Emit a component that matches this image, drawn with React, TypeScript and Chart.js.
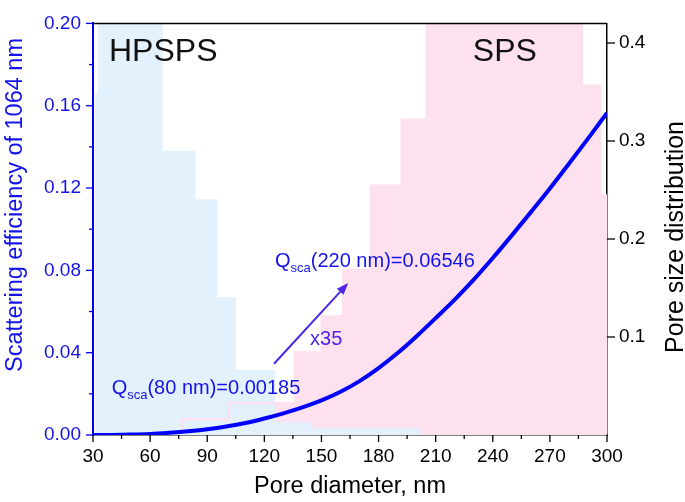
import React, { useEffect, useRef } from 'react';
import { Chart, registerables } from 'chart.js';

Chart.register(...registerables);

// Scattering efficiency curve (left axis)
const diameters = [30, 40, 50, 60, 70, 80, 90, 100, 110, 120, 130, 140, 150, 160, 170, 180, 190, 200, 210, 220, 230, 240, 250, 260, 270, 280, 290, 300];
const qsca = [0, 0.00005, 0.0002, 0.0005, 0.0011, 0.00185, 0.0028, 0.0041, 0.0058, 0.008, 0.0105, 0.0134, 0.0168, 0.021, 0.0262, 0.0325, 0.0398, 0.048, 0.0568, 0.0658, 0.0755, 0.086, 0.097, 0.1083, 0.1198, 0.1318, 0.144, 0.1565];

// Pore size distributions (right axis), histogram bin edges and heights
const hpspsEdges = [31.05, 32.5, 66.6, 83.8, 95.4, 105.1, 125.6, 145, 201.8];
const hpspsHeights = [0.349, 0.5, 0.29, 0.2405, 0.1406, 0.0663, 0.0129, 0.0069];
const spsEdges = [76.7, 101.4, 136.1, 150.2, 161.5, 176, 192.2, 205.3, 286.9, 296.4, 300];
const spsHeights = [0.016, 0.0327, 0.0841, 0.1208, 0.1683, 0.2544, 0.3217, 0.5, 0.3564, 0.2445];

const xTicks = [30, 60, 90, 120, 150, 180, 210, 240, 270, 300];
const leftTicks = [0, 0.04, 0.08, 0.12, 0.16, 0.2];
const rightTicks = [0.1, 0.2, 0.3, 0.4];

const FONT = '"Liberation Sans", Arial, sans-serif';
const BLUE_TEXT = '#1414e8';
const BLUE_AXIS = '#0000ee';
const ARROW = '#4b26e4';
const PINK = '#fde1ef';
const LIGHT_BLUE = '#e3f1fd';

function stepPoints(edges: number[], heights: number[]) {
  const pts: { x: number; y: number }[] = [{ x: edges[0], y: 0 }];
  for (let i = 0; i < heights.length; i++) {
    pts.push({ x: edges[i], y: heights[i] });
    pts.push({ x: edges[i + 1], y: heights[i] });
  }
  pts.push({ x: edges[edges.length - 1], y: 0 });
  return pts;
}

function drawQ(ctx: CanvasRenderingContext2D, x: number, y: number, d: string, v: string) {
  ctx.fillStyle = BLUE_TEXT;
  ctx.textAlign = 'left';
  ctx.textBaseline = 'alphabetic';
  ctx.font = `20px ${FONT}`;
  ctx.fillText('Q', x, y);
  let w = ctx.measureText('Q').width;
  ctx.font = `13px ${FONT}`;
  ctx.fillText('sca', x + w, y + 5);
  w += ctx.measureText('sca').width;
  ctx.font = `20px ${FONT}`;
  ctx.fillText(`(${d} nm)=${v}`, x + w, y);
}

const overlay = {
  id: 'overlay',
  afterDraw(chart: any) {
    const { ctx, chartArea } = chart;
    const sx = chart.scales.x;
    const sy = chart.scales.y;
    const sy2 = chart.scales.y2;
    ctx.save();
    // top frame
    ctx.strokeStyle = '#000';
    ctx.lineWidth = 1.5;
    ctx.beginPath();
    ctx.moveTo(chartArea.left, chartArea.top);
    ctx.lineTo(chartArea.right, chartArea.top);
    ctx.stroke();

    // x ticks (major + minor)
    ctx.lineWidth = 1.3;
    ctx.strokeStyle = '#000';
    for (let v = 30; v <= 300; v += 15) {
      const px = sx.getPixelForValue(v);
      const len = (v - 30) % 30 === 0 ? 7 : 4;
      ctx.beginPath();
      ctx.moveTo(px, chartArea.bottom);
      ctx.lineTo(px, chartArea.bottom + len);
      ctx.stroke();
    }
    // left ticks
    ctx.strokeStyle = BLUE_AXIS;
    for (let i = 0; i <= 10; i++) {
      const v = i * 0.02;
      const py = sy.getPixelForValue(v);
      const len = i % 2 === 0 ? 7 : 4;
      ctx.beginPath();
      ctx.moveTo(chartArea.left, py);
      ctx.lineTo(chartArea.left - len, py);
      ctx.stroke();
    }
    // right ticks
    ctx.strokeStyle = '#000';
    for (const v of rightTicks) {
      const py = sy2.getPixelForValue(v);
      ctx.beginPath();
      ctx.moveTo(chartArea.right, py);
      ctx.lineTo(chartArea.right + 8, py);
      ctx.stroke();
    }

    // axis titles
    ctx.fillStyle = '#000';
    ctx.font = `23.5px ${FONT}`;
    ctx.textAlign = 'center';
    ctx.textBaseline = 'alphabetic';
    ctx.fillText('Pore diameter, nm', (chartArea.left + chartArea.right) / 2, 493);

    ctx.save();
    ctx.translate(22, 205);
    ctx.rotate(-Math.PI / 2);
    ctx.fillStyle = BLUE_TEXT;
    ctx.font = `23.5px ${FONT}`;
    ctx.fillText('Scattering efficiency of 1064 nm', 0, 0);
    ctx.restore();

    ctx.save();
    ctx.translate(683, 237);
    ctx.rotate(-Math.PI / 2);
    ctx.fillStyle = '#000';
    ctx.font = `25px ${FONT}`;
    ctx.fillText('Pore size distribution', 0, 0);
    ctx.restore();

    // group labels
    ctx.textAlign = 'left';
    ctx.fillStyle = '#111';
    ctx.font = `32px ${FONT}`;
    ctx.fillText('HPSPS', sx.getPixelForValue(38.4), sy.getPixelForValue(0.1815));
    ctx.fillText('SPS', sx.getPixelForValue(229.5), sy.getPixelForValue(0.1815));

    // Q annotations
    drawQ(ctx, sx.getPixelForValue(39.8), sy.getPixelForValue(0.0198), '80', '0.00185');
    drawQ(ctx, sx.getPixelForValue(125.6), sy.getPixelForValue(0.0815), '220', '0.06546');

    // arrow
    const x1 = sx.getPixelForValue(125.1), y1 = sy.getPixelForValue(0.0346);
    const x2 = sx.getPixelForValue(164.1), y2 = sy.getPixelForValue(0.0739);
    const ang = Math.atan2(y2 - y1, x2 - x1);
    ctx.strokeStyle = ARROW;
    ctx.fillStyle = ARROW;
    ctx.lineWidth = 2;
    ctx.beginPath();
    ctx.moveTo(x1, y1);
    ctx.lineTo(x2 - 8 * Math.cos(ang), y2 - 8 * Math.sin(ang));
    ctx.stroke();
    ctx.beginPath();
    ctx.moveTo(x2, y2);
    ctx.lineTo(x2 - 12 * Math.cos(ang) + 4.5 * Math.sin(ang), y2 - 12 * Math.sin(ang) - 4.5 * Math.cos(ang));
    ctx.lineTo(x2 - 12 * Math.cos(ang) - 4.5 * Math.sin(ang), y2 - 12 * Math.sin(ang) + 4.5 * Math.cos(ang));
    ctx.closePath();
    ctx.fill();

    ctx.font = `20px ${FONT}`;
    ctx.fillText('x35', sx.getPixelForValue(144), sy.getPixelForValue(0.0438));
    ctx.restore();
  },
};

export default function App() {
  const ref = useRef<HTMLCanvasElement | null>(null);
  useEffect(() => {
    if (!ref.current) return;
    const chart = new Chart(ref.current, {
      type: 'line',
      data: {
        datasets: [
          {
            label: 'Qsca',
            data: diameters.map((d, i) => ({ x: d, y: qsca[i] })),
            yAxisID: 'y',
            borderColor: '#0000ff',
            borderWidth: 4,
            pointRadius: 0,
            fill: false,
            cubicInterpolationMode: 'monotone',
            order: 0,
          },
          {
            label: 'SPS edge',
            data: stepPoints(spsEdges, spsHeights),
            yAxisID: 'y2',
            borderColor: PINK,
            borderWidth: 2.5,
            pointRadius: 0,
            fill: false,
            order: 1,
          },
          {
            label: 'HPSPS',
            data: stepPoints(hpspsEdges, hpspsHeights),
            yAxisID: 'y2',
            borderWidth: 0,
            borderColor: 'rgba(0,0,0,0)',
            backgroundColor: LIGHT_BLUE,
            pointRadius: 0,
            fill: 'origin',
            order: 2,
          },
          {
            label: 'SPS',
            data: stepPoints(spsEdges, spsHeights),
            yAxisID: 'y2',
            borderWidth: 0,
            borderColor: 'rgba(0,0,0,0)',
            backgroundColor: PINK,
            pointRadius: 0,
            fill: 'origin',
            order: 3,
          },
        ],
      },
      options: {
        animation: false,
        responsive: false,
        maintainAspectRatio: false,
        layout: { padding: { top: 11, left: 0, right: 0, bottom: 0 } },
        plugins: { legend: { display: false }, tooltip: { enabled: false } },
        scales: {
          x: {
            type: 'linear',
            min: 30,
            max: 300,
            afterBuildTicks: (s: any) => { s.ticks = xTicks.map((v) => ({ value: v })); },
            afterFit: (s: any) => { s.height = 67; },
            ticks: { color: '#000', font: { size: 19, family: FONT }, padding: 10, maxRotation: 0 },
            grid: { display: false, drawTicks: false },
            border: { display: true, color: '#000', width: 1.5 },
          },
          y: {
            position: 'left',
            min: 0,
            max: 0.2,
            afterBuildTicks: (s: any) => { s.ticks = leftTicks.map((v) => ({ value: v })); },
            afterFit: (s: any) => { s.width = 93; },
            ticks: { color: BLUE_TEXT, font: { size: 19, family: FONT }, padding: 12, callback: (v: any) => Number(v).toFixed(2) },
            grid: { display: false, drawTicks: false },
            border: { display: true, color: BLUE_AXIS, width: 2 },
          },
          y2: {
            position: 'right',
            min: 0,
            max: 0.42,
            afterBuildTicks: (s: any) => { s.ticks = rightTicks.map((v) => ({ value: v })); },
            afterFit: (s: any) => { s.width = 78; },
            ticks: { color: '#000', font: { size: 19, family: FONT }, padding: 12, callback: (v: any) => Number(v).toFixed(1) },
            grid: { display: false, drawTicks: false },
            border: { display: true, color: '#000', width: 1.5 },
          },
        },
      },
      plugins: [overlay],
    } as any);
    return () => chart.destroy();
  }, []);
  return (
    <div style={{ position: 'fixed', left: 0, top: 0, width: 685, height: 502, background: '#fff' }}>
      <canvas ref={ref} width={685} height={502} style={{ display: 'block' }} />
    </div>
  );
}
